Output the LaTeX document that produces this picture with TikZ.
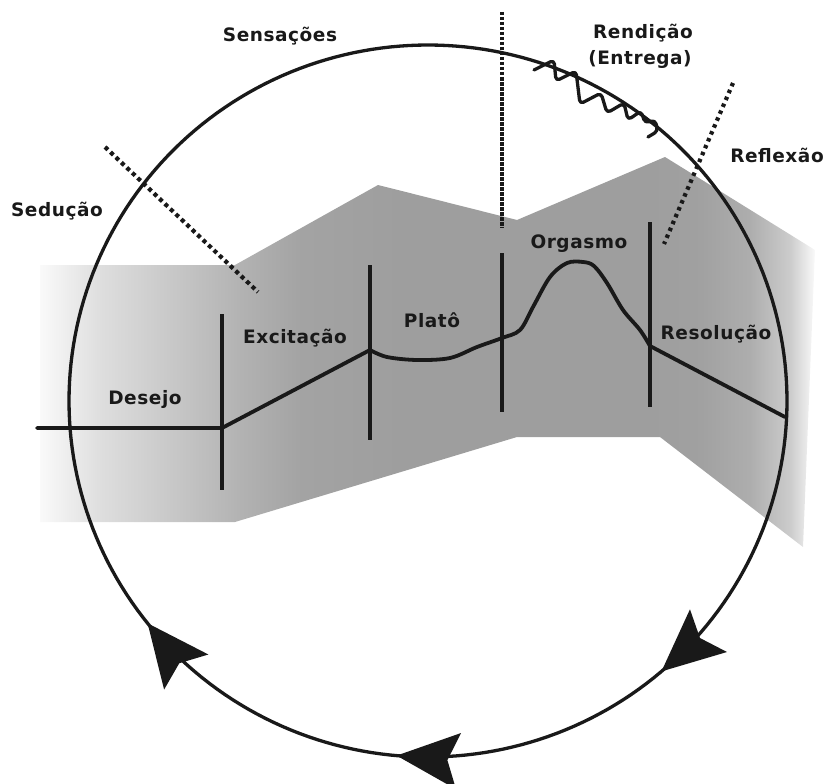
\documentclass[tikz,border=0pt]{standalone}
\usepackage{fontspec}
\setmainfont{DejaVu Sans}
\newfontfamily\labfont{DejaVu Sans}[LetterSpace=3]
\usetikzlibrary{arrows.meta,decorations.markings}

% grey tones of the band, light at both ends
\definecolor{gA}{gray}{0.98}
\definecolor{gB}{gray}{0.87}
\definecolor{gC}{gray}{0.75}
\definecolor{gD}{gray}{0.70}
\definecolor{gE}{gray}{0.64}
\definecolor{gF}{gray}{0.62}
\definecolor{gG}{gray}{0.63}
\definecolor{gH}{gray}{0.68}
\definecolor{gI}{gray}{0.80}
\definecolor{ink}{gray}{0.10}

\pgfdeclarehorizontalshading{bandshade}{100bp}{%
  color(0bp)=(gA); color(25bp)=(gA); color(28.9bp)=(gB); color(35.3bp)=(gC);
  color(37.9bp)=(gD); color(41.8bp)=(gE); color(48.2bp)=(gF); color(64.4bp)=(gF);
  color(67.6bp)=(gG); color(70.8bp)=(gH); color(73.4bp)=(gI); color(75bp)=(gA);
  color(100bp)=(gA)}

\tikzset{
  lab/.style={font=\labfont\bfseries\fontsize{18.5}{21}\selectfont, anchor=base,
    inner sep=0pt, text=ink},
  phase/.style={draw=ink, line width=3.6pt},
  curve/.style={draw=ink, line width=3.8pt, line join=round, line cap=round},
  cyclearrow/.tip={Stealth[length=62pt, width=56pt, inset=11pt]},
  boundary/.style={draw=ink, line width=4.2pt, dash pattern=on 4pt off 3.5pt},
  peakline/.style={draw=ink, line width=4pt, dash pattern=on 3.5pt off 1.5pt},
}

\begin{document}
\begin{tikzpicture}[x=1pt, y=-1pt]
\useasboundingbox (0,0) rectangle (830,784);

% shaded band behind the response curve
\shade[shading=bandshade]
  (40,265) -- (235,265) -- (378,185) -- (517,220) -- (665,157) -- (815,250)
  -- (803,547) -- (660,437) -- (517,437) -- (235,522) -- (40,522) -- cycle;

% key points of the response curve
\coordinate (start) at (37,428);
\coordinate (d1) at (222,428);
\coordinate (d2) at (370,350);
\coordinate (d3) at (502,338);
\coordinate (d4) at (650,346);
\coordinate (cycleEnd) at (785,417);

% phase dividers
\draw[phase] (222,314) -- (222,490);
\draw[phase] (370,265) -- (370,440);
\draw[phase] (502,253) -- (502,412);
\draw[phase] (650,222) -- (650,407);

% dotted boundaries
\coordinate (sedA) at (105,147);
\coordinate (sedB) at (258,292);
\draw[boundary] (sedA) -- (sedB);
\coordinate (refA) at (733,83);
\coordinate (refB) at (664,244);
\draw[boundary, dash pattern=on 3.5pt off 4pt] (refA) -- (refB);
\coordinate (senA) at (502,12);
\coordinate (senB) at (502,228);
\draw[peakline] (senA) -- (senB);

% response curve
\draw[curve] (start) -- (d1) -- (d2);
\draw[curve] plot[smooth, tension=0.55] coordinates {
  (370,350) (387,357) (417,360) (450,358) (477,347) (502,338) (520,330)
  (533,307) (550,277) (567,263) (583,262) (594,266) (607,283) (623,310)
  (640,330) (650,346)};
\draw[curve] (d4) -- (cycleEnd);

% squiggle
\draw[ink, line width=3.3pt, line join=round, line cap=round, rounded corners=4pt]
  (534,70) -- (554,60) -- (556,81) -- (576,71) -- (580,104) -- (601,93)
  -- (607,113) -- (624,103) -- (628,120) -- (641,111) -- (645,123) -- (655,120)
  -- (658,131) -- (648,137);

% the cycle with its arrows
\draw[ink, line width=3.3pt,
  postaction={decorate},
  decoration={markings,
    mark=at position 0.137 with {\arrow[ink]{cyclearrow}},
    mark=at position 0.264 with {\arrow[ink]{cyclearrow}},
    mark=at position 0.393 with {\arrow[ink]{cyclearrow}}}]
  plot[domain=0:360, samples=241] ({428+359*cos(\x)}, {401+356*sin(\x)}) -- cycle;

% labels
\node[lab] (sens) at (280,42) {Sensações};
\node[lab] (rend) at (643,39) {Rendição};
\node[lab] (entr) at (640,65) {(Entrega)};
\node[lab] (refl) at (777,162) {Reflexão};
\node[lab] (sedu) at (57,216) {Sedução};
\node[lab] (dese) at (145,404) {Desejo};
\node[lab] (exci) at (295,343) {Excitação};
\node[lab] (plat) at (432,327) {Platô};
\node[lab] (orga) at (579,248) {Orgasmo};
\node[lab] (reso) at (716,339) {Resolução};
\end{tikzpicture}
\end{document}
